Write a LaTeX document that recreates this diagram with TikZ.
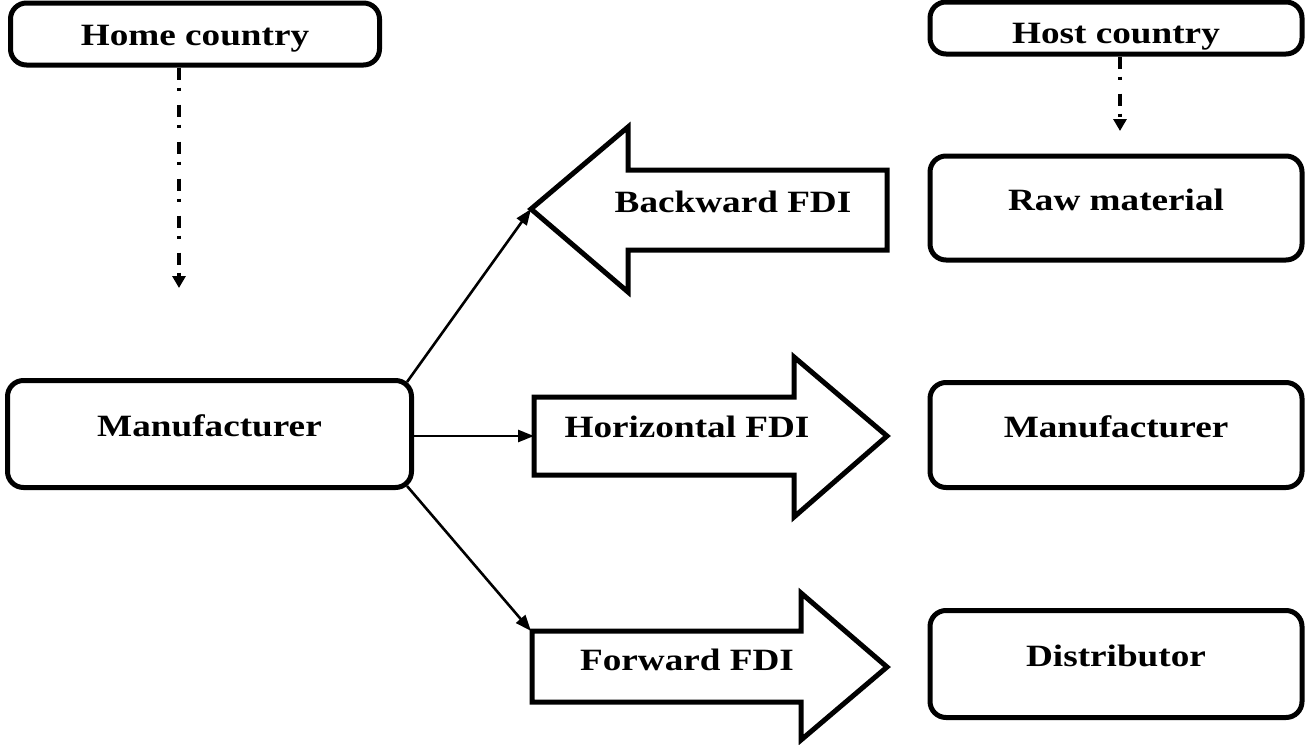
\documentclass[tikz,border=0pt]{standalone}
\usepackage{fontspec}
\setmainfont{Liberation Serif}[FakeStretch=1.2]
\usetikzlibrary{arrows.meta}
\begin{document}
\begin{tikzpicture}[x=1pt,y=-1pt,
  box/.style={draw,line width=5pt,rounded corners=16pt,inner sep=0pt,
    font=\fontsize{31}{33}\selectfont\bfseries,text height=22pt,text depth=18pt},
  bigarrow/.style={draw,line width=5pt,miter limit=10},
  lbl/.style={font=\fontsize{31}{33}\selectfont\bfseries,inner sep=0pt},
  conn/.style={line width=2.6pt,-{Triangle[length=16pt,width=12pt]}},
  dashconn/.style={line width=3.6pt,dash pattern=on 12pt off 8pt on 3pt off 14pt,
    -{Triangle[length=12pt,width=13pt]}}]
\useasboundingbox (0,0) rectangle (1306,744);

% left column
\node[box,text height=25pt,text depth=3pt,minimum width=369pt,minimum height=62pt] (home) at (195,34) {Home country};
\node[box,minimum width=404pt,minimum height=107pt] (mfgL) at (209.5,434) {Manufacturer};
\coordinate (homeend) at (179,288);

% right column
\node[box,text height=30pt,text depth=0pt,minimum width=372pt,minimum height=52pt] (host) at (1116,28) {Host country};
\coordinate (hostend) at (1120,131);
\node[box,minimum width=372pt,minimum height=104pt] (raw) at (1116,208) {Raw material};
\node[box,minimum width=372pt,minimum height=105pt] (mfgR) at (1116,435) {Manufacturer};
\node[box,minimum width=372pt,minimum height=107pt] (dist) at (1116,664) {Distributor};

% big block arrows
\draw[bigarrow] (531,209) -- (628,127) -- (628,170) -- (887,170) -- (887,250)
  -- (628,250) -- (628,292) -- cycle;
\draw[bigarrow] (534,397) -- (794,397) -- (794,357) -- (887,436) -- (794,517)
  -- (794,475) -- (534,475) -- cycle;
\draw[bigarrow] (532,631) -- (801,631) -- (801,593) -- (887,667) -- (801,740)
  -- (801,702) -- (532,702) -- cycle;
\coordinate (bwtip) at (531,209);
\coordinate (hztail) at (534,436);
\coordinate (fwtail) at (531,631);
\node[lbl] (bw) at (733,202) {Backward FDI};
\node[lbl] (hz) at (687,427) {Horizontal FDI};
\node[lbl] (fw) at (687,660) {Forward FDI};

% connectors
\draw[dashconn] (home.south -| homeend) -- (homeend);
\draw[dashconn] (host.south -| hostend) -- (hostend);
\draw[conn] ([xshift=-7pt,yshift=-4pt]mfgL.north east) -- (bwtip);
\draw[conn] (mfgL.east |- hztail) -- (hztail);
\draw[conn] ([xshift=-7pt,yshift=4pt]mfgL.south east) -- (fwtail);
\end{tikzpicture}
\end{document}
